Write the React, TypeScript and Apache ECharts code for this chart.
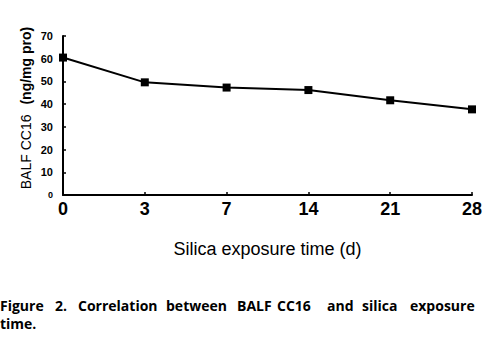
import React, { useEffect, useRef } from "react";
import * as echarts from "echarts";

const categories = ["0", "3", "7", "14", "21", "28"];
const cc16Values = [60.5, 49.6, 47.3, 46.2, 41.7, 37.7];
const yTicks = { min: 0, max: 70, interval: 10 };
const yTitleParts = ["BALF CC16", "(ng/mg pro)"];
const xTitle = "Silica exposure time (d)";
const captionLine1 = ["Figure", "2.", "Correlation", "between", "BALF", "CC16", "and", "silica", "exposure"];
const captionLine1X = [0, 55, 78, 166, 237, 277, 327, 362, 410];
const captionLine2 = "time.";

export default function App() {
  const ref = useRef<HTMLDivElement>(null);
  useEffect(() => {
    document.body.style.margin = "0";
    const chart = echarts.init(ref.current!, null, { renderer: "svg" });
    const arial = "Arial, 'Liberation Sans', sans-serif";
    const captionFont = "bold 14px 'Open Sans', sans-serif";
    const graphic: any[] = captionLine1.map((w, i) => ({
      type: "text",
      x: captionLine1X[i],
      y: 305,
      style: { text: w, font: captionFont, fill: "#000", textVerticalAlign: "middle" },
    }));
    graphic.push({
      type: "text",
      x: 0,
      y: 323,
      style: { text: captionLine2, font: captionFont, fill: "#000", textVerticalAlign: "middle" },
    });
    graphic.push({
      type: "text",
      x: 26,
      y: 108,
      rotation: Math.PI / 2,
      style: {
        text: `{a|${yTitleParts[0]}}   {b|${yTitleParts[1]}}`,
        align: "center",
        verticalAlign: "middle",
        rich: {
          a: { fontSize: 14, fontFamily: arial, fill: "#000" },
          b: { fontSize: 14, fontWeight: "bold", fontFamily: arial, fill: "#000" },
        },
      },
    });
    chart.setOption({
      animation: false,
      backgroundColor: "#fff",
      grid: { left: 63, right: 15, top: 36, bottom: 158, containLabel: false },
      xAxis: {
        type: "category",
        data: categories,
        boundaryGap: false,
        axisLine: { lineStyle: { color: "#000", width: 2 } },
        axisTick: { inside: true, length: 3, lineStyle: { color: "#000", width: 1.5 } },
        axisLabel: { color: "#000", fontSize: 18, fontWeight: "bold", fontFamily: arial, margin: 5 },
        name: xTitle,
        nameLocation: "middle",
        nameGap: 45,
        nameTextStyle: { color: "#000", fontSize: 18, fontFamily: arial },
        splitLine: { show: false },
      },
      yAxis: {
        type: "value",
        min: yTicks.min,
        max: yTicks.max,
        interval: yTicks.interval,
        axisLine: { show: true, lineStyle: { color: "#000", width: 2 } },
        axisTick: { show: true, inside: true, length: 3, lineStyle: { color: "#000", width: 1.5 } },
        axisLabel: {
          color: "#000",
          fontSize: 11,
          fontWeight: "bold",
          fontFamily: arial,
          margin: 10,
          formatter: (v: number) => (v === 0 ? "{s|0}" : String(v)),
          rich: { s: { fontSize: 9, fontWeight: "bold", fontFamily: arial, color: "#000" } },
        },
        splitLine: { show: false },
      },
      series: [
        {
          type: "line",
          data: cc16Values,
          symbol: "rect",
          symbolSize: 8,
          itemStyle: { color: "#000" },
          lineStyle: { color: "#000", width: 2 },
        },
      ],
      graphic,
    });
    return () => chart.dispose();
  }, []);
  return <div ref={ref} style={{ width: 487, height: 353 }} />;
}
